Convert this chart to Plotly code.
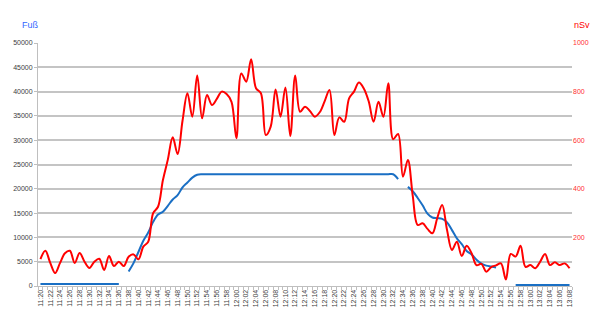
import plotly.graph_objects as go

# time categories 11:20 .. 13:08, one per minute
times = []
for m in range(11 * 60 + 20, 13 * 60 + 9):
    times.append(f"{m // 60}:{m % 60:02d}")

N = None
steps = ([400] * 17 + [N] +
         [3000, 4700, 7000, 9300, 11000, 13200, 14700, 15300, 16500, 17800,
          18700, 20300, 21300, 22300, 22900] +
         [23000] * 40 +
         [22000, N, 20400, 19500, 18100, 16600, 14900, 14100, 13950, 13800,
          13100, 11500, 9800, 8600, 7200, 6500, 5400, 4600, 4200, 4000, 3800,
          N, N, N] +
         [200] * 12)

dose = [111, 145, 95, 53, 95, 135, 145, 95, 136, 100,
        74, 100, 112, 66, 123, 82, 100, 82, 120, 130,
        110, 162, 182, 300, 326, 436, 520, 612, 543, 680,
        793, 697, 866, 690, 786, 745, 770, 800, 790, 758,
        608, 875, 841, 933, 814, 793, 621, 656, 809, 697,
        817, 617, 866, 717, 738, 720, 697, 715, 760, 807,
        621, 694, 676, 772, 800, 837, 813, 760, 676, 758,
        697, 834, 604, 626, 450, 519, 370, 251, 258, 235,
        217, 280, 333, 230, 148, 182, 123, 166, 135, 86,
        91, 59, 78, 85, 93, 27, 132, 121, 166, 79,
        86, 73, 100, 132, 86, 98, 86, 93, 73]

left_ticks = list(range(0, 50001, 5000))
right_ticks = [200, 400, 600, 800, 1000]

idx = list(range(len(times)))
tick_idx = idx[::2]
tick_txt = times[::2]

fig = go.Figure()
fig.add_trace(go.Scatter(x=idx, y=steps, mode="lines", name="Fuß",
                         line=dict(color="#1a6fc4", width=2, shape="spline", smoothing=1.0),
                         connectgaps=False, yaxis="y"))
fig.add_trace(go.Scatter(x=idx, y=dose, mode="lines", name="nSv",
                         line=dict(color="#ff0000", width=2, shape="spline", smoothing=1.0),
                         yaxis="y2"))

font = "Liberation Sans, Arial, sans-serif"
W, H = 600, 325
l, r, t, b = 38, 28, 43, 39
pw, ph = W - l - r, H - t - b

fig.update_layout(
    width=W, height=H,
    margin=dict(l=l, r=r, t=t, b=b),
    paper_bgcolor="white", plot_bgcolor="white",
    showlegend=False,
    font=dict(family=font, size=7, color="#404040"),
    xaxis=dict(range=[-0.5, len(times) - 0.5], tickmode="array",
               tickvals=tick_idx, ticktext=tick_txt, tickangle=-90,
               tickfont=dict(size=7, color="#404040"),
               showgrid=False, zeroline=False,
               showline=True, linecolor="#bfbfbf", linewidth=1,
               ticks="", minor=dict(ticks="outside", tickmode="linear", tick0=0.5,
                                    dtick=1, ticklen=3, tickcolor="#bfbfbf", showgrid=False)),
    yaxis=dict(range=[0, 50000], tickmode="array", tickvals=left_ticks,
               ticktext=[str(v) for v in left_ticks],
               tickfont=dict(size=7, color="#404040"),
               showgrid=True, gridcolor="#c4c4c4", gridwidth=1.5,
               zeroline=False, showline=True, linecolor="#bfbfbf", linewidth=1,
               ticks="outside", ticklen=3, tickcolor="#bfbfbf"),
    yaxis2=dict(range=[0, 1000], overlaying="y", side="right",
                tickmode="array", tickvals=right_ticks,
                ticktext=[str(v) for v in right_ticks],
                tickfont=dict(size=7, color="#ff3030"),
                showgrid=False, zeroline=False, showline=False),
)
fig.add_annotation(text="Fuß", x=(20 - l) / pw, y=(H - b - 25) / ph, xref="paper", yref="paper",
                   xanchor="left", yanchor="middle", showarrow=False,
                   font=dict(family=font, size=9, color="#3366ff"))
fig.add_annotation(text="nSv", x=(572 - l) / pw, y=(H - b - 25) / ph, xref="paper", yref="paper",
                   xanchor="left", yanchor="middle", showarrow=False,
                   font=dict(family=font, size=9, color="#ff0000"))

fig.write_html("out.html")
